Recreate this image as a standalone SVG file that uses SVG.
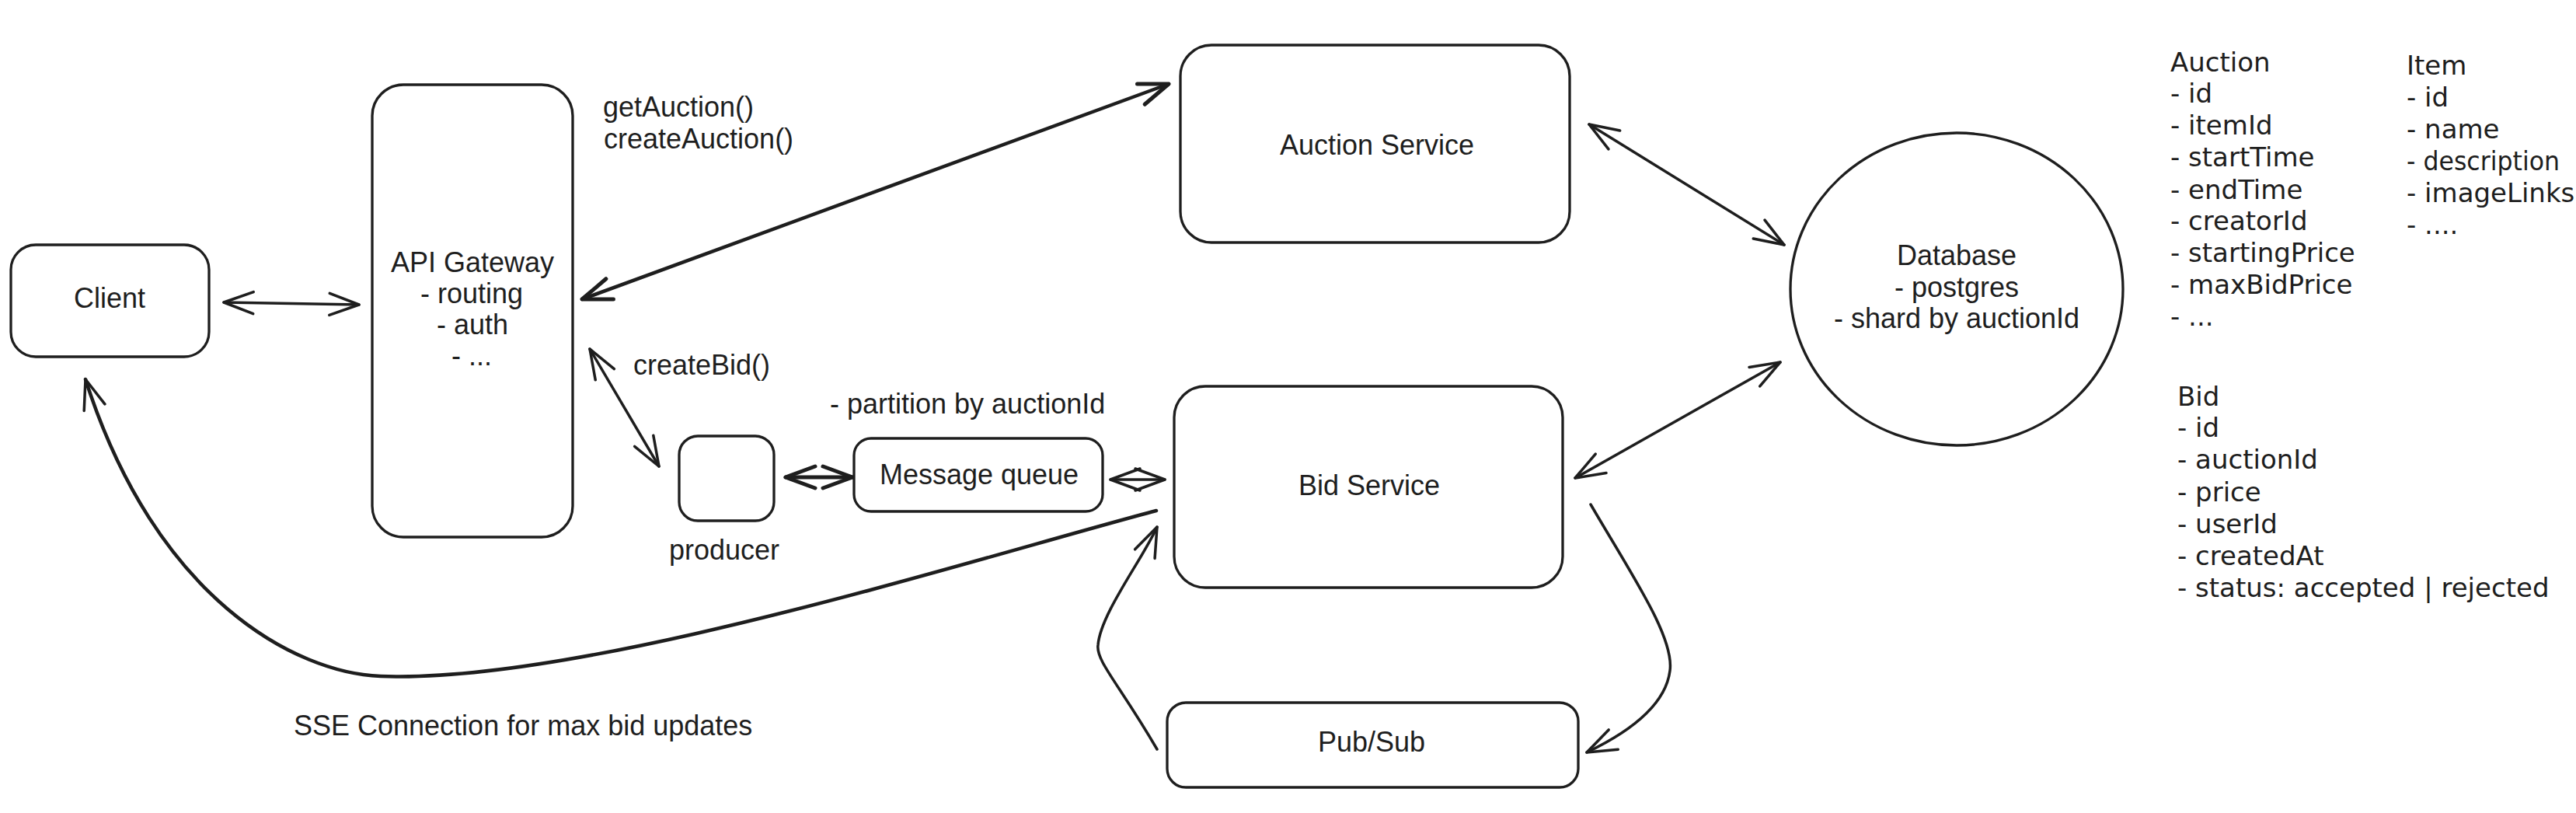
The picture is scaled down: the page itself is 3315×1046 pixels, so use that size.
<svg xmlns="http://www.w3.org/2000/svg" width="3315" height="1046" viewBox="0 0 3315 1046">
  <style>
    .box { fill: #ffffff; stroke: #1e1e1e; stroke-width: 3.3; }
    .conn { fill: none; stroke: #1e1e1e; stroke-width: 3.5; stroke-linecap: round; stroke-linejoin: round; }
    .thick { stroke-width: 5; }
    .lbl { font-family: "Liberation Sans", Arial, sans-serif; font-size: 36px; fill: #1e1e1e; }
    .mid { text-anchor: middle; }
    .sch { font-family: "DejaVu Sans", "Liberation Sans", sans-serif; font-size: 34px; fill: #1e1e1e; }
  </style>
  <defs>
    <marker id="ah" markerUnits="userSpaceOnUse" markerWidth="60" markerHeight="40" viewBox="-50 -20 60 40" refX="0" refY="0" orient="auto-start-reverse" overflow="visible">
      <path d="M-38,-14 L0,0 L-38,14" fill="none" stroke="#1e1e1e" stroke-width="3.5" stroke-linecap="round" stroke-linejoin="round"/>
    </marker>
    <marker id="ahb" markerUnits="userSpaceOnUse" markerWidth="60" markerHeight="40" viewBox="-50 -20 60 40" refX="0" refY="0" orient="auto-start-reverse" overflow="visible">
      <path d="M-38,-14 L0,0 L-38,14" fill="none" stroke="#1e1e1e" stroke-width="5" stroke-linecap="round" stroke-linejoin="round"/>
    </marker>
  </defs>
  <rect x="0" y="0" width="3315" height="1046" fill="#ffffff"/>

  <g id="connectors">
    <path class="conn" d="M288,389 L462,392" marker-start="url(#ah)" marker-end="url(#ah)"/>
    <path class="conn" style="stroke-width:4.5" d="M749,385 L1504,108" marker-start="url(#ahb)" marker-end="url(#ahb)"/>
    <path class="conn" d="M759,449 L848,600" marker-start="url(#ah)" marker-end="url(#ah)"/>
    <path class="conn thick" d="M1011,614 L1097,614" marker-start="url(#ahb)" marker-end="url(#ahb)"/>
    <path class="conn" d="M1429,617 L1499,617" marker-start="url(#ah)" marker-end="url(#ah)"/>
    <path class="conn" d="M2045,160 L2296,315" marker-start="url(#ah)" marker-end="url(#ah)"/>
    <path class="conn" d="M2291,466 L2027,615" marker-start="url(#ah)" marker-end="url(#ah)"/>
    <path class="conn" d="M2047,649 C2100,740 2155,820 2149,863 C2143,910 2090,945 2042,968" marker-end="url(#ah)"/>
    <path class="conn" d="M1489,964 C1440,880 1410,850 1413,830 C1416,790 1470,720 1489,678" marker-end="url(#ah)"/>
    <path class="conn" style="stroke-width:4.5" d="M1488,657 C1250,720 750,880 490,870 C380,866 200,770 110,488" marker-end="url(#ah)"/>
  </g>

  <g id="node-client">
    <rect class="box" x="14" y="315" width="255" height="144" rx="32"/>
    <text class="lbl mid" x="141" y="396">Client</text>
  </g>

  <g id="node-api-gateway">
    <rect class="box" x="479" y="109" width="258" height="582" rx="40"/>
    <text class="lbl mid" x="608" y="350">API Gateway</text>
    <text class="lbl mid" x="607" y="390">- routing</text>
    <text class="lbl mid" x="608" y="430">- auth</text>
    <text class="lbl mid" x="607" y="470">- ...</text>
  </g>

  <g id="node-auction-service">
    <rect class="box" x="1519" y="58" width="501" height="254" rx="40"/>
    <text class="lbl mid" x="1772" y="199">Auction Service</text>
  </g>

  <g id="node-bid-service">
    <rect class="box" x="1511" y="497" width="500" height="259" rx="40"/>
    <text class="lbl mid" x="1762" y="637">Bid Service</text>
  </g>

  <g id="node-producer">
    <rect class="box" x="874" y="561" width="122" height="109" rx="24"/>
    <text class="lbl mid" x="932" y="720">producer</text>
  </g>

  <g id="node-message-queue">
    <rect class="box" x="1099" y="564" width="320" height="94" rx="22"/>
    <text class="lbl mid" x="1260" y="623">Message queue</text>
    <text class="lbl" x="1068" y="532">- partition by auctionId</text>
  </g>

  <g id="node-pubsub">
    <rect class="box" x="1502" y="904" width="529" height="109" rx="24"/>
    <text class="lbl mid" x="1765" y="967">Pub/Sub</text>
  </g>

  <g id="node-database">
    <ellipse class="box" cx="2518" cy="372" rx="214" ry="201"/>
    <text class="lbl mid" x="2518" y="341">Database</text>
    <text class="lbl mid" x="2518" y="382">- postgres</text>
    <text class="lbl mid" x="2518" y="422">- shard by auctionId</text>
  </g>

  <g id="connector-labels">
    <text class="lbl" x="776" y="150">getAuction()</text>
    <text class="lbl" x="777" y="191">createAuction()</text>
    <text class="lbl" x="815" y="482">createBid()</text>
    <text class="lbl" x="378" y="946">SSE Connection for max bid updates</text>
  </g>

  <g id="entity-auction">
    <text class="sch" x="2793" y="92">Auction</text>
    <text class="sch" x="2793" y="132">- id</text>
    <text class="sch" x="2793" y="173">- itemId</text>
    <text class="sch" x="2793" y="214">- startTime</text>
    <text class="sch" x="2793" y="256">- endTime</text>
    <text class="sch" x="2793" y="296">- creatorId</text>
    <text class="sch" x="2793" y="337">- startingPrice</text>
    <text class="sch" x="2793" y="378">- maxBidPrice</text>
    <text class="sch" x="2793" y="419">- ...</text>
  </g>

  <g id="entity-item">
    <text class="sch" x="3097" y="96">Item</text>
    <text class="sch" x="3097" y="137">- id</text>
    <text class="sch" x="3097" y="178">- name</text>
    <text class="sch" x="3097" y="219" textLength="197" lengthAdjust="spacingAndGlyphs">- description</text>
    <text class="sch" x="3097" y="260">- imageLinks</text>
    <text class="sch" x="3097" y="301">- ....</text>
  </g>

  <g id="entity-bid">
    <text class="sch" x="2802" y="522">Bid</text>
    <text class="sch" x="2802" y="562">- id</text>
    <text class="sch" x="2802" y="603">- auctionId</text>
    <text class="sch" x="2802" y="645">- price</text>
    <text class="sch" x="2802" y="686">- userId</text>
    <text class="sch" x="2802" y="727">- createdAt</text>
    <text class="sch" x="2802" y="768">- status: accepted | rejected</text>
  </g>
</svg>
